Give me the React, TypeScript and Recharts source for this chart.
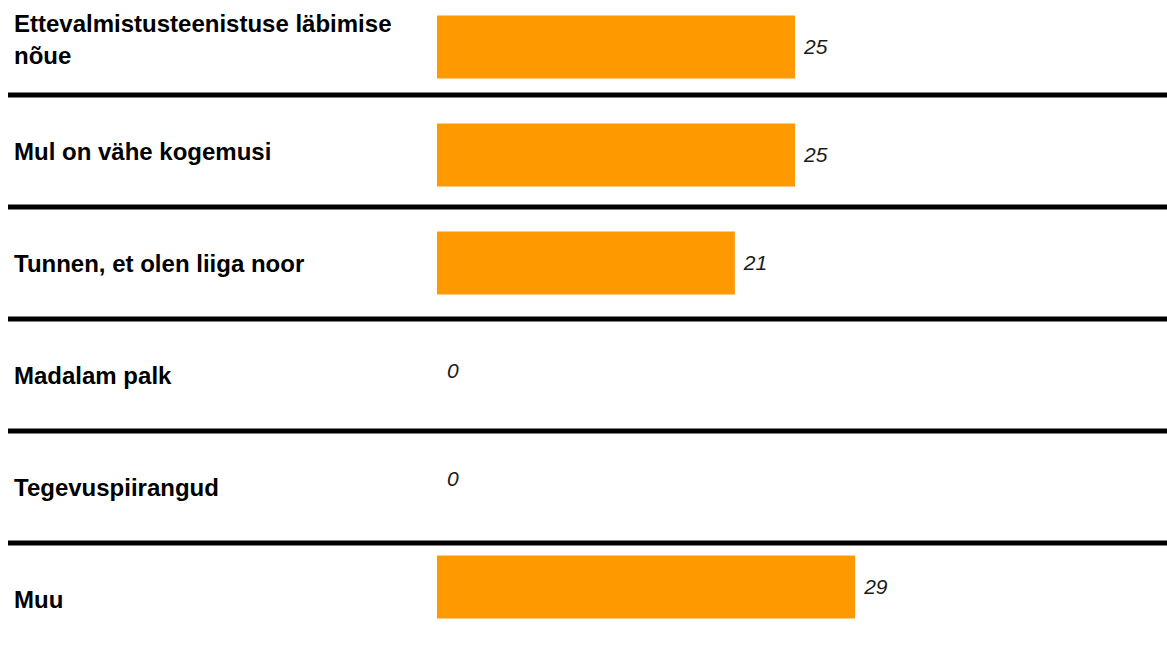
import React from 'react';
import { BarChart, Bar, XAxis, YAxis, LabelList, Cell } from 'recharts';

const categories = [
  'Ettevalmistusteenistuse läbimise nõue',
  'Mul on vähe kogemusi',
  'Tunnen, et olen liiga noor',
  'Madalam palk',
  'Tegevuspiirangud',
  'Muu',
];
const percentages = [25, 25, 20.8, 0, 0, 29.2];
const xDomain = [0, 50];

const data = categories.map((name, i) => ({ name, value: percentages[i] }));

const FONT = '"Liberation Sans", Arial, sans-serif';
const CHART_W = 1167;
const CHART_H = 672;
const LABEL_SIZE = 24;
const LABEL_LINE = 32;
const LABEL_MAX_W = 400;

let ctx: CanvasRenderingContext2D | null = null;
const measure = (s: string) => {
  if (!ctx) ctx = document.createElement('canvas').getContext('2d');
  if (!ctx) return s.length * LABEL_SIZE * 0.6;
  ctx.font = `bold ${LABEL_SIZE}px ${FONT}`;
  return ctx.measureText(s).width;
};

const wrap = (s: string) => {
  const words = s.split(' ');
  const lines: string[] = [];
  let cur = '';
  words.forEach((w) => {
    const next = cur ? cur + ' ' + w : w;
    if (cur && measure(next) > LABEL_MAX_W) {
      lines.push(cur);
      cur = w;
    } else {
      cur = next;
    }
  });
  if (cur) lines.push(cur);
  return lines;
};

// label text + black separator under each row (except the last)
const CategoryTick = (props: any) => {
  const { y, payload, index } = props;
  const half = payload && payload.offset ? payload.offset : 56;
  const lines = wrap(String(payload.value));
  const capHalf = LABEL_SIZE * 0.358;
  const firstBaseline = y - ((lines.length - 1) * LABEL_LINE) / 2 + capHalf;
  return (
    <g>
      <text
        x={14}
        y={firstBaseline}
        fill="#000"
        fontSize={LABEL_SIZE}
        fontWeight="bold"
        fontFamily={FONT}
        textAnchor="start"
      >
        {lines.map((l, i) => (
          <tspan key={i} x={14} dy={i === 0 ? 0 : LABEL_LINE}>
            {l}
          </tspan>
        ))}
      </text>
      {index < categories.length - 1 && (
        <line x1={8} x2={CHART_W} y1={y + half} y2={y + half} stroke="#000" strokeWidth={5} />
      )}
    </g>
  );
};

const App: React.FC = () => {
  return (
    <div style={{ position: 'absolute', left: 0, top: 0, width: CHART_W, height: 648, overflow: 'hidden', background: '#fff' }}>
      <div style={{ marginTop: -17 }}>
        <BarChart
          width={CHART_W}
          height={CHART_H}
          data={data}
          layout="vertical"
          margin={{ top: 0, right: 14, bottom: 0, left: 0 }}
        >
          <XAxis type="number" domain={xDomain} hide />
          <YAxis
            yAxisId="labels"
            type="category"
            dataKey="name"
            width={437}
            axisLine={false}
            tickLine={false}
            interval={0}
            tick={CategoryTick}
          />
          <YAxis
            yAxisId="bars"
            type="category"
            dataKey="name"
            hide
            padding={{ top: 9.5, bottom: 14.5 }}
          />
          <Bar
            yAxisId="bars"
            dataKey="value"
            fill="#FF9900"
            barSize={63}
            minPointSize={1}
            isAnimationActive={false}
          >
            {data.map((d, i) => (
              <Cell key={i} fill={d.value > 0 ? '#FF9900' : 'transparent'} />
            ))}
            <LabelList
              dataKey="value"
              position="right"
              offset={9}
              formatter={(v: any) => String(Math.round(Number(v)))}
              fill="#1a1a1a"
              fontSize={21}
              fontStyle="italic"
              fontFamily={FONT}
            />
          </Bar>
        </BarChart>
      </div>
    </div>
  );
};

export default App;
